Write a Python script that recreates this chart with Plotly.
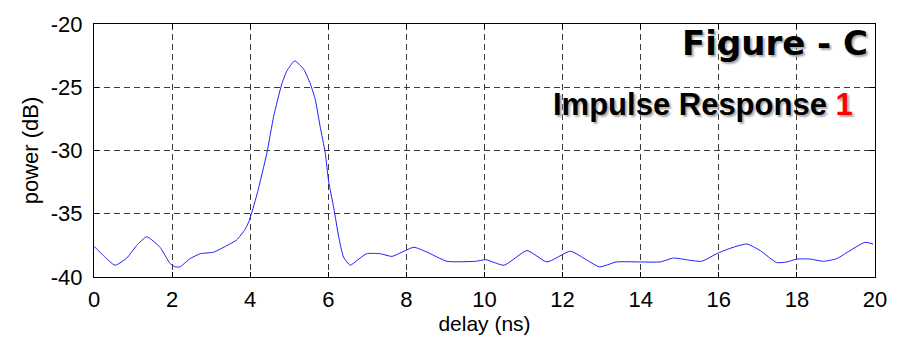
import plotly.graph_objects as go

delay_ns = [0.00, 0.24, 0.54, 0.84, 1.09, 1.35, 1.69, 1.95, 2.08, 2.20, 2.46, 2.72,
            3.06, 3.40, 3.65, 3.87, 3.97, 4.17, 4.43, 4.60, 4.81, 4.94, 5.11, 5.15,
            5.37, 5.54, 5.67, 5.79, 5.92, 6.01, 6.14, 6.27, 6.39, 6.56, 6.74, 6.98,
            7.33, 7.63, 8.19, 8.53, 9.04, 9.77, 10.03, 10.50, 11.09, 11.60, 12.20,
            12.63, 12.95, 13.38, 13.98, 14.50, 14.84, 15.26, 15.56, 15.99, 16.37,
            16.72, 17.06, 17.48, 17.74, 18.00, 18.34, 18.68, 19.02, 19.36, 19.74, 19.95]
power_db = [-37.57, -38.30, -39.07, -38.50, -37.52, -36.82, -37.65, -38.94, -39.20, -39.20,
            -38.55, -38.16, -38.04, -37.52, -37.08, -36.23, -35.58, -33.51, -30.16, -27.31,
            -24.73, -23.70, -22.97, -22.92, -23.57, -24.73, -26.02, -28.09, -30.16, -32.48,
            -34.55, -36.88, -38.43, -39.07, -38.68, -38.16, -38.16, -38.37, -37.65, -38.04,
            -38.76, -38.76, -38.63, -39.07, -37.91, -38.81, -37.96, -38.68, -39.20, -38.81,
            -38.81, -38.81, -38.50, -38.68, -38.76, -38.09, -37.65, -37.39, -37.91, -38.86,
            -38.81, -38.58, -38.58, -38.76, -38.55, -37.91, -37.26, -37.39]

x_ticks = [0, 2, 4, 6, 8, 10, 12, 14, 16, 18, 20]
y_ticks = [-40, -35, -30, -25, -20]

FONT = "Liberation Sans, Arial, sans-serif"

fig = go.Figure()
fig.add_trace(go.Scatter(
    x=delay_ns, y=power_db, mode="lines",
    line=dict(color="#1f1fff", width=1, shape="spline", smoothing=0.5),
    showlegend=False, hoverinfo="skip"))

axis_common = dict(
    showline=True, linecolor="black", linewidth=1, mirror="ticks",
    ticks="inside", ticklen=5, tickcolor="black",
    showgrid=True, gridcolor="#3a3a3a", gridwidth=1, griddash="6px,4px",
    zeroline=False, tickfont=dict(family=FONT, size=22, color="black"),
)

fig.update_xaxes(range=[0, 20], tickvals=x_ticks, ticktext=[str(v) for v in x_ticks],
                 title=dict(text="delay (ns)", font=dict(family=FONT, size=21, color="black"),
                            standoff=2),
                 ticklabelstandoff=3, **axis_common)
fig.update_yaxes(range=[-40, -20], tickvals=y_ticks, ticktext=[str(v) for v in y_ticks],
                 title=dict(text="power (dB)", font=dict(family=FONT, size=22, color="black"),
                            standoff=6),
                 ticklabelstandoff=6, **axis_common)

fig.add_annotation(
    xref="paper", yref="paper", x=0.994, y=0.925, xanchor="right", yanchor="middle",
    text="<b>Figure - C</b>", showarrow=False,
    font=dict(family="DejaVu Sans", size=34, color="black", shadow="2px 2px 2px #aaa"))
fig.add_annotation(
    xref="paper", yref="paper", x=0.974, y=0.68, xanchor="right", yanchor="middle",
    text="<b>Impulse Response <span style='color:#ff0000'>1</span></b>", showarrow=False,
    font=dict(family=FONT, size=31, color="black", shadow="2px 2px 2px #aaa"))

fig.update_layout(
    width=905, height=342,
    margin=dict(l=94, r=30, t=19, b=65),
    paper_bgcolor="white", plot_bgcolor="white",
    font=dict(family=FONT, color="black"),
)

fig.write_html("out.html")
